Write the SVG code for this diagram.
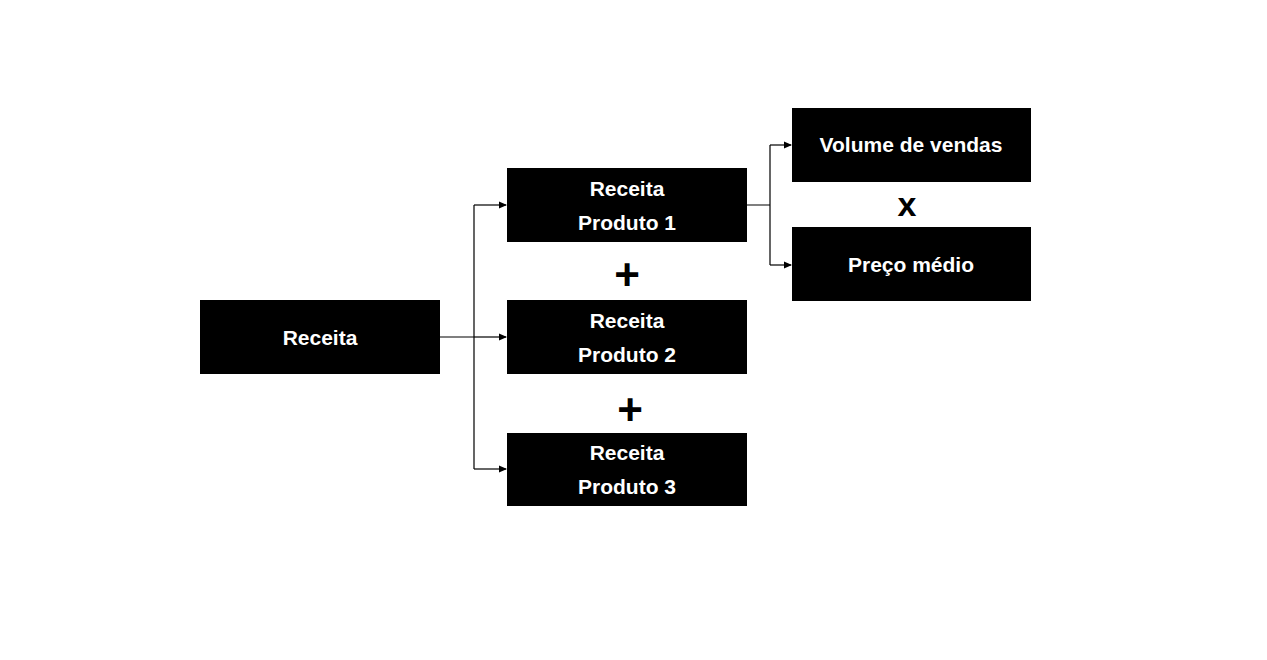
<svg xmlns="http://www.w3.org/2000/svg" width="1267" height="660" viewBox="0 0 1267 660">
<style>
.box{fill:#000}
.t{fill:#fff;font-family:"Liberation Sans",Arial,sans-serif;font-weight:bold;font-size:21px;text-anchor:middle}
.op{fill:#000;font-family:"Liberation Sans",Arial,sans-serif;font-weight:bold;text-anchor:middle}
.c{stroke:#000;stroke-width:1.2;fill:none}
</style>
<defs><marker id="a" markerWidth="8" markerHeight="8" refX="7" refY="4" orient="auto" markerUnits="userSpaceOnUse"><path d="M0,0.5 L8,4 L0,7.5 Z" fill="#000"/></marker></defs>
<rect width="1267" height="660" fill="#fff"/>
<g id="connectors">
<path class="c" d="M440,337 H474 M474,205 V469"/>
<path class="c" d="M474,205 H506" marker-end="url(#a)"/>
<path class="c" d="M474,337 H506" marker-end="url(#a)"/>
<path class="c" d="M474,469 H506" marker-end="url(#a)"/>
<path class="c" d="M747,205 H770 M770,145 V265"/>
<path class="c" d="M770,145 H791" marker-end="url(#a)"/>
<path class="c" d="M770,265 H791" marker-end="url(#a)"/>
</g>
<g id="receita"><rect class="box" x="200" y="300" width="240" height="74"/><text class="t" x="320" y="345">Receita</text></g>
<g id="p1"><rect class="box" x="507" y="168" width="240" height="74"/><text class="t" x="627" y="196">Receita</text><text class="t" x="627" y="230">Produto 1</text></g>
<g id="p2"><rect class="box" x="507" y="300" width="240" height="74"/><text class="t" x="627" y="328">Receita</text><text class="t" x="627" y="362">Produto 2</text></g>
<g id="p3"><rect class="box" x="507" y="433" width="240" height="73"/><text class="t" x="627" y="460">Receita</text><text class="t" x="627" y="494">Produto 3</text></g>
<g id="volume"><rect class="box" x="792" y="108" width="239" height="74"/><text class="t" x="911" y="152">Volume de vendas</text></g>
<g id="preco"><rect class="box" x="792" y="227" width="239" height="74"/><text class="t" x="911" y="272">Preço médio</text></g>
<text class="op" x="627" y="290" font-size="44">+</text>
<text class="op" x="630" y="425" font-size="44">+</text>
<text class="op" x="907" y="216" font-size="34">x</text>
</svg>
